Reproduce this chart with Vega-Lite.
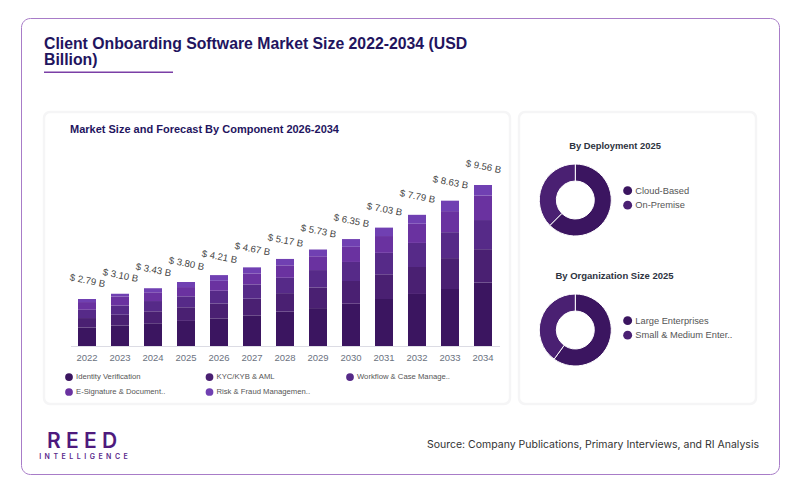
{
  "$schema": "https://vega.github.io/schema/vega-lite/v6.json",
  "background": "#ffffff",
  "autosize": "none",
  "padding": {"left": 21, "top": 18, "right": 21, "bottom": 19},
  "width": 758,
  "height": 456,
  "view": {"stroke": "#a87cc8", "strokeWidth": 1, "cornerRadius": 9, "fill": "#ffffff"},
  "config": {"font": "Liberation Sans"},
  "datasets": {
    "components": [
      {"year": "2022", "component": "Identity Verification", "rank": 1, "value": 1.10},
      {"year": "2022", "component": "KYC/KYB & AML", "rank": 2, "value": 0.56},
      {"year": "2022", "component": "Workflow & Case Manage..", "rank": 3, "value": 0.49},
      {"year": "2022", "component": "E-Signature & Document..", "rank": 4, "value": 0.46},
      {"year": "2022", "component": "Risk & Fraud Managemen..", "rank": 5, "value": 0.18},
      {"year": "2023", "component": "Identity Verification", "rank": 1, "value": 1.22},
      {"year": "2023", "component": "KYC/KYB & AML", "rank": 2, "value": 0.63},
      {"year": "2023", "component": "Workflow & Case Manage..", "rank": 3, "value": 0.55},
      {"year": "2023", "component": "E-Signature & Document..", "rank": 4, "value": 0.54},
      {"year": "2023", "component": "Risk & Fraud Managemen..", "rank": 5, "value": 0.16},
      {"year": "2024", "component": "Identity Verification", "rank": 1, "value": 1.35},
      {"year": "2024", "component": "KYC/KYB & AML", "rank": 2, "value": 0.71},
      {"year": "2024", "component": "Workflow & Case Manage..", "rank": 3, "value": 0.61},
      {"year": "2024", "component": "E-Signature & Document..", "rank": 4, "value": 0.52},
      {"year": "2024", "component": "Risk & Fraud Managemen..", "rank": 5, "value": 0.24},
      {"year": "2025", "component": "Identity Verification", "rank": 1, "value": 1.49},
      {"year": "2025", "component": "KYC/KYB & AML", "rank": 2, "value": 0.81},
      {"year": "2025", "component": "Workflow & Case Manage..", "rank": 3, "value": 0.65},
      {"year": "2025", "component": "E-Signature & Document..", "rank": 4, "value": 0.55},
      {"year": "2025", "component": "Risk & Fraud Managemen..", "rank": 5, "value": 0.30},
      {"year": "2026", "component": "Identity Verification", "rank": 1, "value": 1.64},
      {"year": "2026", "component": "KYC/KYB & AML", "rank": 2, "value": 0.89},
      {"year": "2026", "component": "Workflow & Case Manage..", "rank": 3, "value": 0.75},
      {"year": "2026", "component": "E-Signature & Document..", "rank": 4, "value": 0.59},
      {"year": "2026", "component": "Risk & Fraud Managemen..", "rank": 5, "value": 0.34},
      {"year": "2027", "component": "Identity Verification", "rank": 1, "value": 1.82},
      {"year": "2027", "component": "KYC/KYB & AML", "rank": 2, "value": 0.99},
      {"year": "2027", "component": "Workflow & Case Manage..", "rank": 3, "value": 0.85},
      {"year": "2027", "component": "E-Signature & Document..", "rank": 4, "value": 0.65},
      {"year": "2027", "component": "Risk & Fraud Managemen..", "rank": 5, "value": 0.36},
      {"year": "2028", "component": "Identity Verification", "rank": 1, "value": 2.04},
      {"year": "2028", "component": "KYC/KYB & AML", "rank": 2, "value": 1.10},
      {"year": "2028", "component": "Workflow & Case Manage..", "rank": 3, "value": 0.91},
      {"year": "2028", "component": "E-Signature & Document..", "rank": 4, "value": 0.74},
      {"year": "2028", "component": "Risk & Fraud Managemen..", "rank": 5, "value": 0.38},
      {"year": "2029", "component": "Identity Verification", "rank": 1, "value": 2.25},
      {"year": "2029", "component": "KYC/KYB & AML", "rank": 2, "value": 1.23},
      {"year": "2029", "component": "Workflow & Case Manage..", "rank": 3, "value": 1.03},
      {"year": "2029", "component": "E-Signature & Document..", "rank": 4, "value": 0.82},
      {"year": "2029", "component": "Risk & Fraud Managemen..", "rank": 5, "value": 0.40},
      {"year": "2030", "component": "Identity Verification", "rank": 1, "value": 2.51},
      {"year": "2030", "component": "KYC/KYB & AML", "rank": 2, "value": 1.35},
      {"year": "2030", "component": "Workflow & Case Manage..", "rank": 3, "value": 1.13},
      {"year": "2030", "component": "E-Signature & Document..", "rank": 4, "value": 0.90},
      {"year": "2030", "component": "Risk & Fraud Managemen..", "rank": 5, "value": 0.46},
      {"year": "2031", "component": "Identity Verification", "rank": 1, "value": 2.79},
      {"year": "2031", "component": "KYC/KYB & AML", "rank": 2, "value": 1.47},
      {"year": "2031", "component": "Workflow & Case Manage..", "rank": 3, "value": 1.27},
      {"year": "2031", "component": "E-Signature & Document..", "rank": 4, "value": 1.00},
      {"year": "2031", "component": "Risk & Fraud Managemen..", "rank": 5, "value": 0.50},
      {"year": "2032", "component": "Identity Verification", "rank": 1, "value": 3.09},
      {"year": "2032", "component": "KYC/KYB & AML", "rank": 2, "value": 1.60},
      {"year": "2032", "component": "Workflow & Case Manage..", "rank": 3, "value": 1.43},
      {"year": "2032", "component": "E-Signature & Document..", "rank": 4, "value": 1.14},
      {"year": "2032", "component": "Risk & Fraud Managemen..", "rank": 5, "value": 0.53},
      {"year": "2033", "component": "Identity Verification", "rank": 1, "value": 3.38},
      {"year": "2033", "component": "KYC/KYB & AML", "rank": 2, "value": 1.84},
      {"year": "2033", "component": "Workflow & Case Manage..", "rank": 3, "value": 1.54},
      {"year": "2033", "component": "E-Signature & Document..", "rank": 4, "value": 1.25},
      {"year": "2033", "component": "Risk & Fraud Managemen..", "rank": 5, "value": 0.62},
      {"year": "2034", "component": "Identity Verification", "rank": 1, "value": 3.77},
      {"year": "2034", "component": "KYC/KYB & AML", "rank": 2, "value": 1.98},
      {"year": "2034", "component": "Workflow & Case Manage..", "rank": 3, "value": 1.73},
      {"year": "2034", "component": "E-Signature & Document..", "rank": 4, "value": 1.45},
      {"year": "2034", "component": "Risk & Fraud Managemen..", "rank": 5, "value": 0.63}
    ],
    "totals": [
      {"year": "2022", "total": 2.79, "label": "$ 2.79 B"},
      {"year": "2023", "total": 3.10, "label": "$ 3.10 B"},
      {"year": "2024", "total": 3.43, "label": "$ 3.43 B"},
      {"year": "2025", "total": 3.80, "label": "$ 3.80 B"},
      {"year": "2026", "total": 4.21, "label": "$ 4.21 B"},
      {"year": "2027", "total": 4.67, "label": "$ 4.67 B"},
      {"year": "2028", "total": 5.17, "label": "$ 5.17 B"},
      {"year": "2029", "total": 5.73, "label": "$ 5.73 B"},
      {"year": "2030", "total": 6.35, "label": "$ 6.35 B"},
      {"year": "2031", "total": 7.03, "label": "$ 7.03 B"},
      {"year": "2032", "total": 7.79, "label": "$ 7.79 B"},
      {"year": "2033", "total": 8.63, "label": "$ 8.63 B"},
      {"year": "2034", "total": 9.56, "label": "$ 9.56 B"}
    ]
  },
  "resolve": {
    "scale": {"x": "independent", "y": "independent", "color": "independent", "theta": "independent"},
    "axis": {"x": "independent", "y": "independent"}
  },
  "layer": [
    {
      "data": {"values": [{"card": "Chart"}]},
      "mark": {"type": "rect", "fill": "#ffffff", "stroke": "#f5f5f6", "strokeWidth": 2.5, "cornerRadius": 6},
      "encoding": {
        "x": {"field": "card", "type": "nominal", "axis": null, "scale": {"type": "band", "range": [23, 489], "paddingInner": 0, "paddingOuter": 0}},
        "y": {"field": "card", "type": "nominal", "axis": null, "scale": {"type": "band", "range": [94, 386], "paddingInner": 0, "paddingOuter": 0}}
      }
    },
    {
      "data": {"values": [{"card": "Side"}]},
      "mark": {"type": "rect", "fill": "#ffffff", "stroke": "#f5f5f6", "strokeWidth": 2.5, "cornerRadius": 6},
      "encoding": {
        "x": {"field": "card", "type": "nominal", "axis": null, "scale": {"type": "band", "range": [498, 735], "paddingInner": 0, "paddingOuter": 0}},
        "y": {"field": "card", "type": "nominal", "axis": null, "scale": {"type": "band", "range": [94, 386], "paddingInner": 0, "paddingOuter": 0}}
      }
    },
    {
      "data": {"values": [{"card": "Underline"}]},
      "mark": {"type": "rect", "fill": "#7b3fa6"},
      "encoding": {
        "x": {"field": "card", "type": "nominal", "axis": null, "scale": {"type": "band", "range": [23, 152], "paddingInner": 0, "paddingOuter": 0}},
        "y": {"field": "card", "type": "nominal", "axis": null, "scale": {"type": "band", "range": [53.5, 55], "paddingInner": 0, "paddingOuter": 0}}
      }
    },
    {
      "data": {"values": [{"label": "Client Onboarding Software Market Size 2022-2034 (USD\nBillion)"}]},
      "mark": {"type": "text", "align": "left", "baseline": "middle", "font": "Liberation Sans", "fontWeight": "bold", "fontSize": 15.8, "fill": "#22145e", "lineBreak": "\n", "lineHeight": 16},
      "encoding": {
        "x": {"field": "label", "type": "nominal", "axis": null, "scale": {"type": "point", "range": [23, 23]}},
        "y": {"field": "label", "type": "nominal", "axis": null, "scale": {"type": "point", "range": [26, 26]}},
        "text": {"field": "label"}
      }
    },
    {
      "data": {"values": [{"label": "Market Size and Forecast By Component 2026-2034"}]},
      "mark": {"type": "text", "align": "left", "baseline": "middle", "font": "Liberation Sans", "fontWeight": "bold", "fontSize": 11, "fill": "#1f1560"},
      "encoding": {
        "x": {"field": "label", "type": "nominal", "axis": null, "scale": {"type": "point", "range": [49, 49]}},
        "y": {"field": "label", "type": "nominal", "axis": null, "scale": {"type": "point", "range": [112, 112]}},
        "text": {"field": "label"}
      }
    },
    {
      "data": {"name": "components"},
      "mark": {"type": "bar"},
      "encoding": {
        "x": {
          "field": "year", "type": "ordinal",
          "scale": {"type": "band", "range": [49.5, 478.5], "paddingInner": 0.4545, "paddingOuter": 0.2273},
          "axis": {"title": null, "orient": "bottom", "offset": -128, "zindex": 1, "ticks": false, "labelAngle": 0, "labelPadding": 6, "labelFont": "Liberation Sans", "labelFontSize": 9.5, "labelColor": "#6b7280", "domainColor": "#dcdce4", "domainWidth": 1, "grid": false}
        },
        "y": {
          "field": "value", "type": "quantitative", "stack": "zero", "axis": null,
          "scale": {"domain": [0, 10], "range": [328, 159.6], "nice": false, "zero": true}
        },
        "order": {"field": "rank", "type": "quantitative"},
        "color": {
          "field": "component", "type": "nominal",
          "scale": {
            "domain": ["Identity Verification", "KYC/KYB & AML", "Workflow & Case Manage..", "E-Signature & Document..", "Risk & Fraud Managemen.."],
            "range": ["#3b1560", "#4a2072", "#562a88", "#6a32a0", "#7040b2"]
          },
          "legend": {
            "orient": "none", "legendX": 44, "legendY": 355, "title": null, "columns": 3, "direction": "horizontal", "gridAlign": "all", "columnPadding": 35.5, "rowPadding": 7,
            "symbolType": "circle", "symbolSize": 60, "symbolStrokeWidth": 0, "labelOffset": 3,
            "labelFont": "Liberation Sans", "labelFontSize": 7.7, "labelColor": "#555555", "labelLimit": 200
          }
        }
      }
    },
    {
      "data": {"name": "totals"},
      "mark": {"type": "text", "angle": 11, "dx": -3, "dy": -18, "baseline": "middle", "font": "Liberation Sans", "fontSize": 9.6, "fill": "#444444"},
      "encoding": {
        "x": {
          "field": "year", "type": "ordinal", "axis": null,
          "scale": {"type": "band", "range": [49.5, 478.5], "paddingInner": 0.4545, "paddingOuter": 0.2273}
        },
        "y": {
          "field": "total", "type": "quantitative", "axis": null,
          "scale": {"domain": [0, 10], "range": [328, 159.6], "nice": false, "zero": true}
        },
        "text": {"field": "label"}
      }
    },
    {
      "data": {"values": [{"label": "By Deployment 2025"}]},
      "mark": {"type": "text", "baseline": "middle", "font": "Liberation Sans", "fontWeight": "bold", "fontSize": 9.4, "fill": "#2d3340"},
      "encoding": {
        "x": {"field": "label", "type": "nominal", "axis": null, "scale": {"type": "point", "range": [594, 594]}},
        "y": {"field": "label", "type": "nominal", "axis": null, "scale": {"type": "point", "range": [127.5, 127.5]}},
        "text": {"field": "label"}
      }
    },
    {
      "data": {"values": [
        {"panel": "By Deployment 2025", "segment": "Cloud-Based", "rank": 1, "share": 62.5},
        {"panel": "By Deployment 2025", "segment": "On-Premise", "rank": 2, "share": 37.5}
      ]},
      "mark": {"type": "arc", "innerRadius": 19, "outerRadius": 36, "stroke": "#ffffff", "strokeWidth": 1},
      "encoding": {
        "x": {"field": "panel", "type": "nominal", "axis": null, "scale": {"type": "point", "range": [554.3, 554.3]}},
        "y": {"field": "panel", "type": "nominal", "axis": null, "scale": {"type": "point", "range": [182, 182]}},
        "theta": {"field": "share", "type": "quantitative", "stack": true},
        "order": {"field": "rank", "type": "quantitative"},
        "color": {
          "field": "segment", "type": "nominal",
          "scale": {"domain": ["Cloud-Based", "On-Premise"], "range": ["#3b1560", "#4a2072"]},
          "legend": {
            "orient": "none", "legendX": 602, "legendY": 168, "title": null, "rowPadding": 4.5,
            "symbolType": "circle", "symbolSize": 80, "symbolStrokeWidth": 0, "labelOffset": 3,
            "labelFont": "Liberation Sans", "labelFontSize": 9.3, "labelColor": "#555555", "labelLimit": 200
          }
        }
      }
    },
    {
      "data": {"values": [{"label": "By Organization Size 2025"}]},
      "mark": {"type": "text", "baseline": "middle", "font": "Liberation Sans", "fontWeight": "bold", "fontSize": 9.5, "fill": "#2d3340"},
      "encoding": {
        "x": {"field": "label", "type": "nominal", "axis": null, "scale": {"type": "point", "range": [593.5, 593.5]}},
        "y": {"field": "label", "type": "nominal", "axis": null, "scale": {"type": "point", "range": [257.5, 257.5]}},
        "text": {"field": "label"}
      }
    },
    {
      "data": {"values": [
        {"panel": "By Organization Size 2025", "segment": "Large Enterprises", "rank": 1, "share": 60},
        {"panel": "By Organization Size 2025", "segment": "Small & Medium Enter..", "rank": 2, "share": 40}
      ]},
      "mark": {"type": "arc", "innerRadius": 19, "outerRadius": 36, "stroke": "#ffffff", "strokeWidth": 1},
      "encoding": {
        "x": {"field": "panel", "type": "nominal", "axis": null, "scale": {"type": "point", "range": [554.3, 554.3]}},
        "y": {"field": "panel", "type": "nominal", "axis": null, "scale": {"type": "point", "range": [312, 312]}},
        "theta": {"field": "share", "type": "quantitative", "stack": true},
        "order": {"field": "rank", "type": "quantitative"},
        "color": {
          "field": "segment", "type": "nominal",
          "scale": {"domain": ["Large Enterprises", "Small & Medium Enter.."], "range": ["#3b1560", "#4a2072"]},
          "legend": {
            "orient": "none", "legendX": 602, "legendY": 298, "title": null, "rowPadding": 4.5,
            "symbolType": "circle", "symbolSize": 80, "symbolStrokeWidth": 0, "labelOffset": 3,
            "labelFont": "Liberation Sans", "labelFontSize": 9.3, "labelColor": "#555555", "labelLimit": 200
          }
        }
      }
    },
    {
      "data": {"values": [{"label": "R E E D"}]},
      "mark": {"type": "text", "baseline": "middle", "font": "Inter", "fontWeight": 600, "fontSize": 21, "fill": "#4e1a7e"},
      "encoding": {
        "x": {"field": "label", "type": "nominal", "axis": null, "scale": {"type": "point", "range": [61, 61]}},
        "y": {"field": "label", "type": "nominal", "axis": null, "scale": {"type": "point", "range": [424, 424]}},
        "text": {"field": "label"}
      }
    },
    {
      "data": {"values": [{"label": "I\u2002N\u2002T\u2002E\u2002L\u2002L\u2002I\u2002G\u2002E\u2002N\u2002C\u2002E"}]},
      "mark": {"type": "text", "baseline": "middle", "font": "Inter", "fontWeight": 600, "fontSize": 7, "fill": "#5a2a8c"},
      "encoding": {
        "x": {"field": "label", "type": "nominal", "axis": null, "scale": {"type": "point", "range": [62.5, 62.5]}},
        "y": {"field": "label", "type": "nominal", "axis": null, "scale": {"type": "point", "range": [439, 439]}},
        "text": {"field": "label"}
      }
    },
    {
      "data": {"values": [{"label": "Source: Company Publications, Primary Interviews, and RI Analysis"}]},
      "mark": {"type": "text", "align": "right", "baseline": "middle", "font": "Inter", "fontSize": 10.5, "fill": "#333333"},
      "encoding": {
        "x": {"field": "label", "type": "nominal", "axis": null, "scale": {"type": "point", "range": [738, 738]}},
        "y": {"field": "label", "type": "nominal", "axis": null, "scale": {"type": "point", "range": [427, 427]}},
        "text": {"field": "label"}
      }
    }
  ]
}
